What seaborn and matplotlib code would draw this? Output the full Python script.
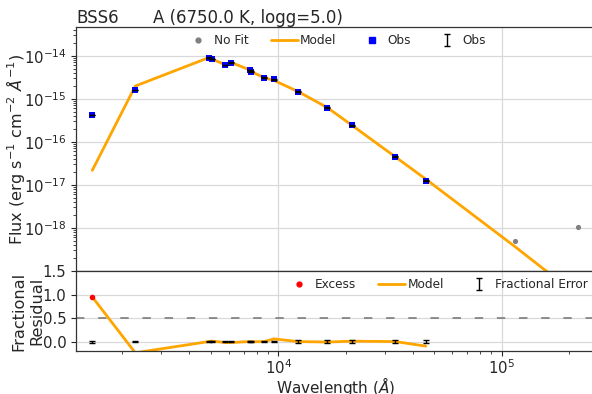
import matplotlib
matplotlib.use("Agg")
import matplotlib.pyplot as plt
import matplotlib.transforms as mtransforms
from matplotlib.lines import Line2D
import numpy as np
import pandas as pd
import seaborn as sns

star_name = "BSS6"
fit_label = "A (6750.0 K, logg=5.0)"

# Photometry used in the fit: wavelength (Angstrom) and flux (erg s-1 cm-2 A-1)
wave_obs = [1470, 2290, 4880, 5040, 5780, 6120, 7460, 7560, 8640, 9570,
            12250, 16560, 21430, 33400, 45700]
flux_obs = [4.18e-16, 1.59e-15, 8.98e-15, 8.40e-15, 6.08e-15, 6.88e-15,
            4.65e-15, 4.25e-15, 3.08e-15, 2.82e-15, 1.47e-15, 6.18e-16,
            2.41e-16, 4.47e-17, 1.24e-17]
frac_err = [0.02, 0.015, 0.01, 0.01, 0.01, 0.01, 0.01, 0.01, 0.01, 0.01,
            0.025, 0.025, 0.025, 0.025, 0.025]

# Points excluded from the fit
wave_nofit = [114700, 218800]
flux_nofit = [5.0e-19, 1.05e-18]

# Best-fitting model evaluated at every filter
wave_model = wave_obs + wave_nofit
flux_model = [2.17e-17, 1.97e-15, 8.98e-15, 8.32e-15, 6.20e-15, 7.02e-15,
              4.65e-15, 4.27e-15, 3.08e-15, 2.66e-15, 1.47e-15, 6.24e-16,
              2.39e-16, 4.47e-17, 1.36e-17, 3.67e-19, 2.68e-20]

x_ticks = [1e4, 1e5]
flux_ticks = [1e-18, 1e-17, 1e-16, 1e-15, 1e-14]
resid_ticks = [0.0, 0.5, 1.0, 1.5]
excess_threshold = 0.5

obs = pd.DataFrame({"wave": wave_obs, "flux": flux_obs, "ferr": frac_err})
obs["err"] = obs["flux"] * obs["ferr"]
obs["model"] = flux_model[:len(wave_obs)]
obs["resid"] = (obs["flux"] - obs["model"]) / obs["flux"]
model = pd.DataFrame({"wave": wave_model, "flux": flux_model})
nofit = pd.DataFrame({"wave": wave_nofit, "flux": flux_nofit})
excess = obs[obs["resid"] > excess_threshold]

sns.set_style("ticks", {"axes.grid": True, "grid.color": "0.85",
                        "axes.edgecolor": "0.2"})
plt.rcParams["font.family"] = ["DejaVu Sans"]
plt.rcParams["axes.linewidth"] = 0.9

TICK_FS = 10.7
LABEL_FS = 11.6
LEG_FS = 8.7
leg_kw = dict(frameon=False, fontsize=LEG_FS, handlelength=2.2,
              handletextpad=0.2, columnspacing=1.85, borderaxespad=0.2)

fig = plt.figure(figsize=(5.92, 3.94), dpi=100)
ax = fig.add_axes([0.1284, 0.3122, 0.8767, 0.6200])
axr = fig.add_axes([0.1284, 0.1080, 0.8767, 0.2042], sharex=ax)

xlim = (1243, 261600)

# --- SED panel ---
sns.lineplot(data=model, x="wave", y="flux", ax=ax, color="orange", lw=2,
             sort=True, zorder=2, legend=False)
sns.scatterplot(data=nofit, x="wave", y="flux", ax=ax, color="gray",
                s=14, linewidth=0, zorder=3, legend=False)
sns.scatterplot(data=obs, x="wave", y="flux", ax=ax, color="blue",
                marker="s", s=22, linewidth=0, zorder=3, legend=False)
eb = ax.errorbar(obs["wave"], obs["flux"], yerr=obs["err"], fmt="none",
                 ecolor="black", elinewidth=1, capsize=2, zorder=4)
ax.set_xscale("log")
ax.set_yscale("log")
ax.set_xlim(*xlim)
ax.set_ylim(1e-19, 4.7e-14)
ax.set_yticks(flux_ticks)
ax.tick_params(axis="x", labelbottom=False)
ax.tick_params(axis="y", labelsize=TICK_FS)
ax.set_xlabel("")
ax.set_ylabel(r"Flux (erg s$^{-1}$ cm$^{-2}$ $\AA^{-1}$)", fontsize=LABEL_FS,
              labelpad=-2.5)
ax.grid(True, which="major", color="0.85", lw=0.9)
ax.grid(False, which="minor")

h_nofit = Line2D([], [], ls="none", marker="o", ms=3.5, color="gray")
h_model = Line2D([], [], color="orange", lw=2)
h_obs = Line2D([], [], ls="none", marker="s", ms=4.5, color="blue")
ax.legend([h_nofit, h_model, h_obs, eb], ["No Fit", "Model", "Obs", "Obs"],
          loc="upper center", ncol=4, **leg_kw)

ax.set_title(star_name, loc="left", fontsize=12, pad=3)
title_tr = mtransforms.offset_copy(ax.transAxes, fig=fig, y=3, units="points")
ax.text(0.148, 1.0, fit_label, transform=title_tr, fontsize=12,
        ha="left", va="baseline")

# --- residual panel ---
axr.axhline(excess_threshold, color="0.45", lw=1.1, dashes=(5.5, 9),
            zorder=1)
sns.lineplot(data=obs, x="wave", y="resid", ax=axr, color="orange", lw=2,
             sort=True, zorder=2, legend=False)
sns.scatterplot(data=excess, x="wave", y="resid", ax=axr, color="red",
                s=16, linewidth=0, zorder=3, legend=False)
ebr = axr.errorbar(obs["wave"], np.zeros(len(obs)), yerr=obs["ferr"],
                   fmt="none", ecolor="black", elinewidth=1, capsize=2.5,
                   zorder=4)
axr.set_xscale("log")
axr.set_xlim(*xlim)
axr.set_ylim(-0.21, 1.5)
axr.set_xticks(x_ticks)
axr.set_yticks(resid_ticks)
axr.tick_params(labelsize=TICK_FS)
axr.tick_params(axis="x", which="major", pad=1.5)
axr.set_xlabel(r"Wavelength ($\AA$)", fontsize=11, labelpad=-1.5)
axr.set_ylabel("Fractional\nResidual", fontsize=LABEL_FS, labelpad=-1)
axr.grid(True, which="major", color="0.85", lw=0.9)
axr.grid(False, which="minor")

h_exc = Line2D([], [], ls="none", marker="o", ms=3.5, color="red")
axr.legend([h_exc, h_model, ebr], ["Excess", "Model", "Fractional Error"],
           loc="upper right", ncol=3, **leg_kw)

fig.savefig("out.png", dpi=100)
